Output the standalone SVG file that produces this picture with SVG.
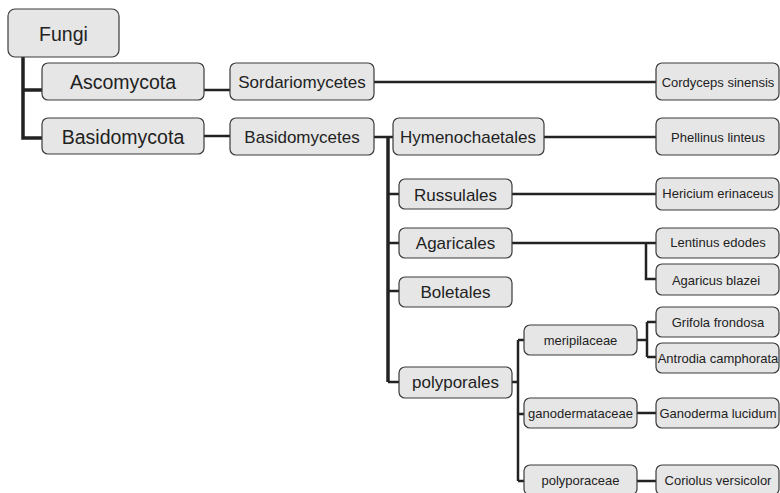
<svg xmlns="http://www.w3.org/2000/svg" width="780" height="493" viewBox="0 0 780 493">
<style>
.b{fill:#e6e6e6;stroke:#3a3a3a;stroke-width:1.2}
text{font-family:"Liberation Sans",Arial,sans-serif;fill:#222;text-anchor:middle}
.l1{font-size:19.5px}
.l2{font-size:17px}
.l3{font-size:13px}
.c{fill:none;stroke:#222;stroke-width:2.5}
.t{fill:none;stroke:#222;stroke-width:3.5}
</style>
<rect width="780" height="493" fill="#fff"/>
<g id="connectors">
<path class="t" d="M23 57V138H42M23 90H42"/>
<path class="c" d="M204 90H230M204 136H230M374 82H656"/>
<path class="c" d="M374 137H388"/>
<path class="t" d="M388 136V382"/>
<path class="c" d="M388 137H393M388 194H399M388 243H399M388 291H399M388 382H399"/>
<path class="c" d="M544 137H656M512 194H656M512 243H656M646 243V279H656"/>
<path class="c" d="M512 382H518M518 340V481M518 340H524M518 414H524M518 481H524"/>
<path class="c" d="M637 340H647M647 322V357M647 322H656M647 357H656M637 413H656M637 481H656"/>
</g>
<g id="fungi"><rect class="b" x="8" y="9" width="111" height="48" rx="7"/><text class="l1" x="63.5" y="41">Fungi</text></g>
<g id="ascomycota"><rect class="b" x="42" y="63" width="162" height="37" rx="6"/><text class="l1" x="123" y="89">Ascomycota</text></g>
<g id="basidomycota"><rect class="b" x="42" y="118" width="162" height="36" rx="6"/><text class="l1" x="123" y="144">Basidomycota</text></g>
<g id="sordariomycetes"><rect class="b" x="230" y="63" width="144" height="37" rx="6"/><text class="l2" x="302" y="88">Sordariomycetes</text></g>
<g id="basidomycetes"><rect class="b" x="230" y="118" width="144" height="37" rx="6"/><text class="l2" x="302" y="143">Basidomycetes</text></g>
<g id="hymenochaetales"><rect class="b" x="393" y="118" width="151" height="37" rx="6"/><text class="l2" x="468" y="143">Hymenochaetales</text></g>
<g id="russulales"><rect class="b" x="399" y="179" width="113" height="30" rx="6"/><text class="l2" x="455.5" y="201">Russulales</text></g>
<g id="agaricales"><rect class="b" x="399" y="228" width="113" height="30" rx="6"/><text class="l2" x="455.5" y="249">Agaricales</text></g>
<g id="boletales"><rect class="b" x="399" y="277" width="113" height="30" rx="6"/><text class="l2" x="455.5" y="298">Boletales</text></g>
<g id="polyporales"><rect class="b" x="399" y="367" width="113" height="31" rx="6"/><text class="l2" x="455.5" y="388">polyporales</text></g>
<g id="meripilaceae"><rect class="b" x="524" y="325" width="113" height="30" rx="6"/><text class="l3" x="580.5" y="345">meripilaceae</text></g>
<g id="ganodermataceae"><rect class="b" x="524" y="398" width="113" height="30" rx="6"/><text class="l3" x="580.5" y="418">ganodermataceae</text></g>
<g id="polyporaceae"><rect class="b" x="524" y="465" width="113" height="30" rx="6"/><text class="l3" x="580.5" y="485">polyporaceae</text></g>
<g id="cordyceps"><rect class="b" x="656" y="63" width="123" height="37" rx="6"/><text class="l3" x="718" y="87">Cordyceps sinensis</text></g>
<g id="phellinus"><rect class="b" x="656" y="118" width="123" height="37" rx="6"/><text class="l3" x="718" y="142">Phellinus linteus</text></g>
<g id="hericium"><rect class="b" x="656" y="178" width="123" height="32" rx="6"/><text class="l3" x="718" y="198">Hericium erinaceus</text></g>
<g id="lentinus"><rect class="b" x="656" y="228" width="123" height="30" rx="6"/><text class="l3" x="718" y="247">Lentinus edodes</text></g>
<g id="agaricus"><rect class="b" x="656" y="264" width="123" height="31" rx="6"/><text class="l3" x="716" y="285">Agaricus blazei</text></g>
<g id="grifola"><rect class="b" x="656" y="307" width="123" height="30" rx="6"/><text class="l3" x="718" y="327">Grifola frondosa</text></g>
<g id="antrodia"><rect class="b" x="656" y="343" width="123" height="30" rx="6"/><text class="l3" x="718" y="363">Antrodia camphorata</text></g>
<g id="ganoderma"><rect class="b" x="656" y="398" width="123" height="30" rx="6"/><text class="l3" x="718" y="418">Ganoderma lucidum</text></g>
<g id="coriolus"><rect class="b" x="656" y="465" width="123" height="30" rx="6"/><text class="l3" x="718" y="485">Coriolus versicolor</text></g>
</svg>
